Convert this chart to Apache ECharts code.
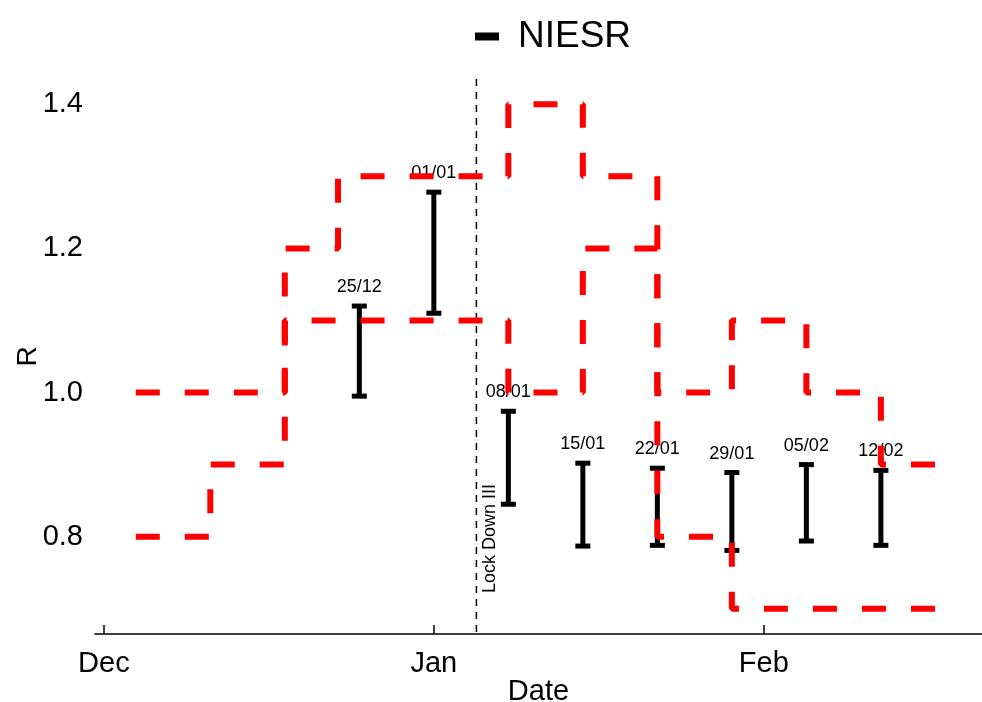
<!DOCTYPE html>
<html>
<head>
<meta charset="utf-8">
<title>NIESR R estimates</title>
<script src="https://cdn.jsdelivr.net/npm/echarts@6/dist/echarts.min.js"></script>
<style>
    html, body { margin: 0; padding: 0; background: #fff; }
    #chart { width: 982px; height: 702px; }
</style>
</head>
<body>
<div id="chart"></div>
<script>
// NIESR weekly R estimates (error bars)
var bar_dates = ['2020-12-25', '2021-01-01', '2021-01-08', '2021-01-15', '2021-01-22', '2021-01-29', '2021-02-05', '2021-02-12'];
var bar_labels = ['25/12', '01/01', '08/01', '15/01', '22/01', '29/01', '05/02', '12/02'];
var bar_low = [0.995, 1.110, 0.845, 0.787, 0.788, 0.781, 0.794, 0.788];
var bar_high = [1.120, 1.278, 0.974, 0.902, 0.895, 0.889, 0.900, 0.892];

// upper / lower bounds of the official range (step lines)
var upper_dates = ['2020-12-04', '2020-12-18', '2020-12-23', '2021-01-08', '2021-01-15', '2021-01-22', '2021-01-29', '2021-02-05', '2021-02-12', '2021-02-18'];
var upper_values = [1.0, 1.2, 1.3, 1.4, 1.3, 1.0, 1.1, 1.0, 0.9, 0.9];
var lower_dates = ['2020-12-04', '2020-12-11', '2020-12-18', '2021-01-08', '2021-01-15', '2021-01-22', '2021-01-29', '2021-02-18'];
var lower_values = [0.8, 0.9, 1.1, 1.0, 1.2, 0.8, 0.7, 0.7];

var lockdown_date = '2021-01-05';
var lockdown_label = 'Lock Down III';
var month_names = ['Jan', 'Feb', 'Mar', 'Apr', 'May', 'Jun', 'Jul', 'Aug', 'Sep', 'Oct', 'Nov', 'Dec'];

var font = 'Liberation Sans, Arial, Helvetica, sans-serif';

function zip(xs, ys) {
    var out = [];
    xs.forEach(function(x, i) {
        out.push([x, ys[i]]);
    });
    return out;
}

function renderErrorBar(params, api) {
    var x = api.value(0);
    var top = api.coord([x, api.value(2)]);
    var bottom = api.coord([x, api.value(1)]);
    var capW = 15, capH = 5;
    return {
        type: 'group',
        children: [{
            type: 'line',
            shape: { x1: top[0], y1: top[1], x2: bottom[0], y2: bottom[1] },
            style: { stroke: '#000', lineWidth: 5 }
        }, {
            type: 'rect',
            shape: { x: top[0] - capW / 2, y: top[1] - capH / 2, width: capW, height: capH },
            style: { fill: '#000' }
        }, {
            type: 'rect',
            shape: { x: bottom[0] - capW / 2, y: bottom[1] - capH / 2, width: capW, height: capH },
            style: { fill: '#000' }
        }, {
            type: 'text',
            x: top[0],
            y: top[1] - 10,
            style: {
                text: bar_labels[params.dataIndex],
                fill: '#000',
                font: '18px ' + font,
                align: 'center',
                verticalAlign: 'bottom'
            }
        }]
    };
}

function renderLockdown(params, api) {
    var cs = params.coordSys;
    var x = api.coord([api.value(0), 1])[0];
    return {
        type: 'group',
        children: [{
            type: 'line',
            shape: { x1: x, y1: cs.y, x2: x, y2: cs.y + cs.height },
            style: { stroke: '#000', lineWidth: 1.5, lineDash: [7, 6] }
        }, {
            type: 'text',
            x: x + 14,
            y: cs.y + cs.height - 41,
            rotation: Math.PI / 2,
            style: {
                text: lockdown_label,
                fill: '#000',
                font: '18px ' + font,
                align: 'left',
                verticalAlign: 'middle'
            }
        }]
    };
}

var myChart = echarts.init(document.getElementById('chart'));

var dashStyle = {
    color: '#ff0000',
    width: 6,
    type: [24, 25],
    cap: 'butt'
};

var option = {
    animation: false,
    textStyle: { fontFamily: font },
    legend: {
        left: 470,
        top: 13,
        itemWidth: 24,
        itemHeight: 8,
        data: [{ name: 'NIESR', icon: 'rect', itemStyle: { color: '#000' } }],
        textStyle: { fontSize: 37, color: '#000', padding: [0, 0, 0, 14] }
    },
    grid: {
        left: 95,
        right: 0,
        top: 79,
        bottom: 68,
        containLabel: false,
        outerBoundsMode: 'none'
    },
    xAxis: {
        type: 'time',
        min: '2020-11-30 04:00',
        max: '2021-02-21 12:00',
        splitNumber: 3,
        minInterval: 28 * 24 * 3600 * 1000,
        name: 'Date',
        nameLocation: 'middle',
        nameGap: 43,
        nameMoveOverlap: false,
        nameTextStyle: { fontSize: 29, color: '#000' },
        axisLine: { lineStyle: { color: '#000', width: 1.5 } },
        axisTick: { inside: true, length: 9, lineStyle: { color: '#000', width: 1.5 } },
        axisLabel: {
            fontSize: 29,
            color: '#000',
            margin: 15,
            showMinLabel: false,
            showMaxLabel: false,
            formatter: function(v) {
                return month_names[new Date(v).getMonth()];
            }
        },
        splitLine: { show: false }
    },
    yAxis: {
        type: 'value',
        min: 0.665,
        max: 1.435,
        name: 'R',
        nameLocation: 'middle',
        nameGap: 53,
        nameMoveOverlap: false,
        nameRotate: 90,
        nameTextStyle: { fontSize: 28, color: '#000' },
        axisLine: { show: false },
        axisTick: { show: false },
        splitLine: { show: false },
        axisLabel: {
            fontSize: 29,
            color: '#000',
            margin: 12,
            showMinLabel: false,
            showMaxLabel: false,
            formatter: function(v) {
                return v.toFixed(1);
            }
        }
    },
    series: [{
        name: 'NIESR',
        type: 'custom',
        renderItem: renderErrorBar,
        encode: { x: 0, y: [1, 2] },
        data: bar_dates.map(function(d, i) {
            return [d, bar_low[i], bar_high[i]];
        }),
        z: 2
    }, {
        name: 'lockdown',
        type: 'custom',
        renderItem: renderLockdown,
        encode: { x: 0 },
        data: [[lockdown_date]],
        silent: true,
        z: 1
    }, {
        name: 'upper',
        type: 'line',
        step: 'end',
        showSymbol: false,
        silent: true,
        lineStyle: dashStyle,
        data: zip(upper_dates, upper_values),
        z: 3
    }, {
        name: 'lower',
        type: 'line',
        step: 'end',
        showSymbol: false,
        silent: true,
        lineStyle: dashStyle,
        data: zip(lower_dates, lower_values),
        z: 3
    }]
};

myChart.setOption(option);
</script>
</body>
</html>
